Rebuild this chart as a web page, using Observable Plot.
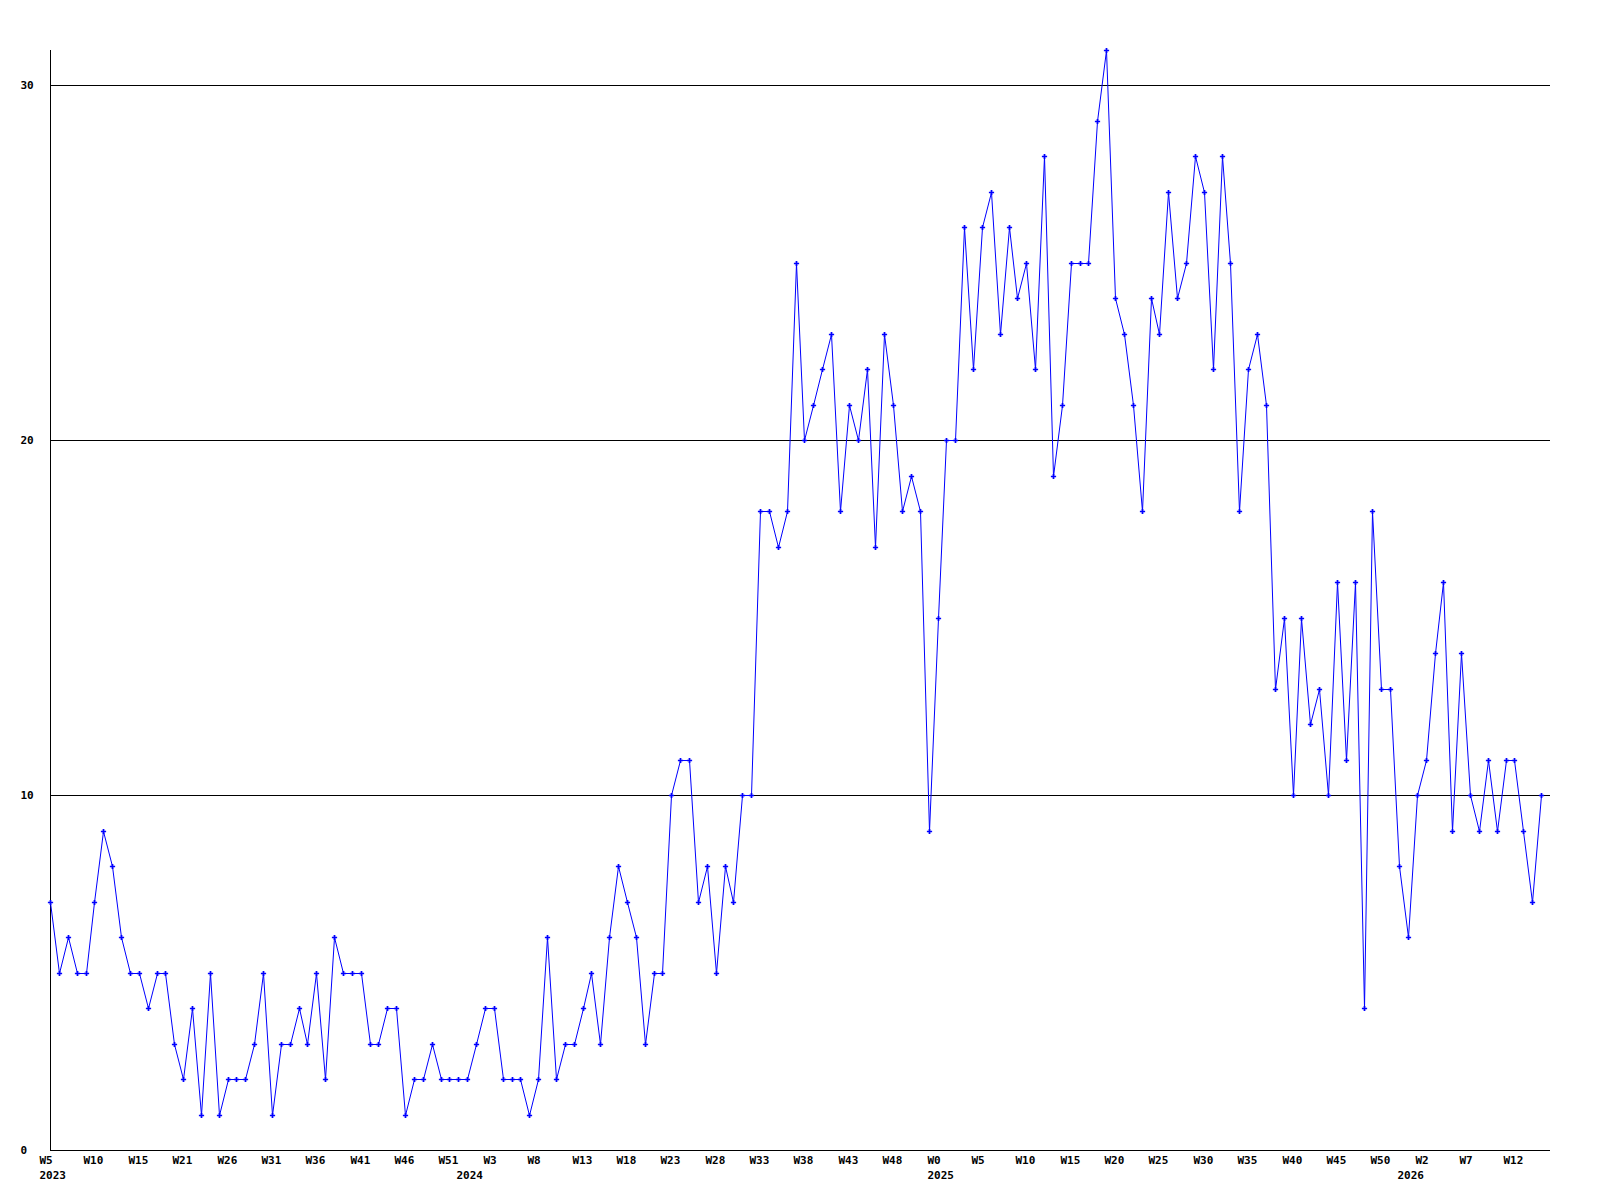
<!DOCTYPE html>
<html>
<head>
<meta charset="utf-8">
<script src="https://cdn.jsdelivr.net/npm/d3@7"></script>
<script src="https://cdn.jsdelivr.net/npm/@observablehq/plot@0.6"></script>
<style>
  html, body { margin: 0; padding: 0; background: #fff; }
  #chart svg { display: block; }
</style>
</head>
<body>
<div id="chart"></div>
<script>
// Weekly counts, one per week, starting at 2023 W5
const values = [
  7,5,6,5,5,7,9,8,6,5,
  5,4,5,5,3,2,4,1,5,1,
  2,2,2,3,5,1,3,3,4,3,
  5,2,6,5,5,5,3,3,4,4,
  1,2,2,3,2,2,2,2,3,4,
  4,2,2,2,1,2,6,2,3,3,
  4,5,3,6,8,7,6,3,5,5,
  10,11,11,7,8,5,8,7,10,10,
  18,18,17,18,25,20,21,22,23,18,
  21,20,22,17,23,21,18,19,18,9,
  15,20,20,26,22,26,27,23,26,24,
  25,22,28,19,21,25,25,25,29,31,
  24,23,21,18,24,23,27,24,25,28,
  27,22,28,25,18,22,23,21,13,15,
  10,15,12,13,10,16,11,16,4,18,
  13,13,8,6,10,11,14,16,9,14,
  10,9,11,9,11,11,9,7,10
];

// Week tick labels, one every 5th week of the series
const weekLabels = [
  "W5","W10","W15","W21","W26","W31","W36","W41","W46","W51",
  "W3","W8","W13","W18","W23","W28","W33","W38","W43","W48",
  "W0","W5","W10","W15","W20","W25","W30","W35","W40","W45",
  "W50","W2","W7","W12"
];
const tickStep = 5;

// Year labels and the series index of each year's first week
const yearLabels = ["2023","2024","2025","2026"];
const yearStartIndex = [0, 47, 100, 153];

// Y axis tick values
const yTicks = [0, 10, 20, 30];
const yGrid = [10, 20, 30];

const data = values.map((v, i) => ({i, v}));
const weekTicks = weekLabels.map((label, k) => ({i: k * tickStep, label}));
const yearTicks = yearLabels.map((label, k) => ({i: yearStartIndex[k], label}));

const font = "DejaVu Sans Mono, monospace";

const chart = Plot.plot({
  width: 1600,
  height: 1200,
  marginTop: 50,
  marginBottom: 50,
  marginLeft: 50,
  marginRight: 50,
  style: {fontFamily: font, fontSize: "11px", fontWeight: "bold", background: "#fff", color: "#000"},
  x: {domain: [0, 169], axis: null, round: true},
  y: {domain: [0, 31], axis: null, round: true},
  marks: [
    Plot.ruleY(yGrid, {stroke: "#000", strokeWidth: 1}),
    Plot.ruleY([0], {stroke: "#000", strokeWidth: 1}),
    Plot.ruleX([0], {stroke: "#000", strokeWidth: 1}),
    Plot.line(data, {x: "i", y: "v", stroke: "#0000ff", strokeWidth: 1}),
    Plot.dot(data, {x: "i", y: "v", symbol: "cross", r: 2.2, fill: "#0000ff", stroke: "none"}),
    Plot.text(yTicks, {y: d => d, text: d => String(d), frameAnchor: "left", textAnchor: "start", dx: -30, fill: "#000"}),
    Plot.text(weekTicks, {x: "i", text: "label", frameAnchor: "bottom", textAnchor: "start", dx: -11, dy: 13, fill: "#000"}),
    Plot.text(yearTicks, {x: "i", text: "label", frameAnchor: "bottom", textAnchor: "start", dx: -11, dy: 28, fill: "#000"})
  ]
});
document.getElementById("chart").appendChild(chart);
</script>
</body>
</html>
